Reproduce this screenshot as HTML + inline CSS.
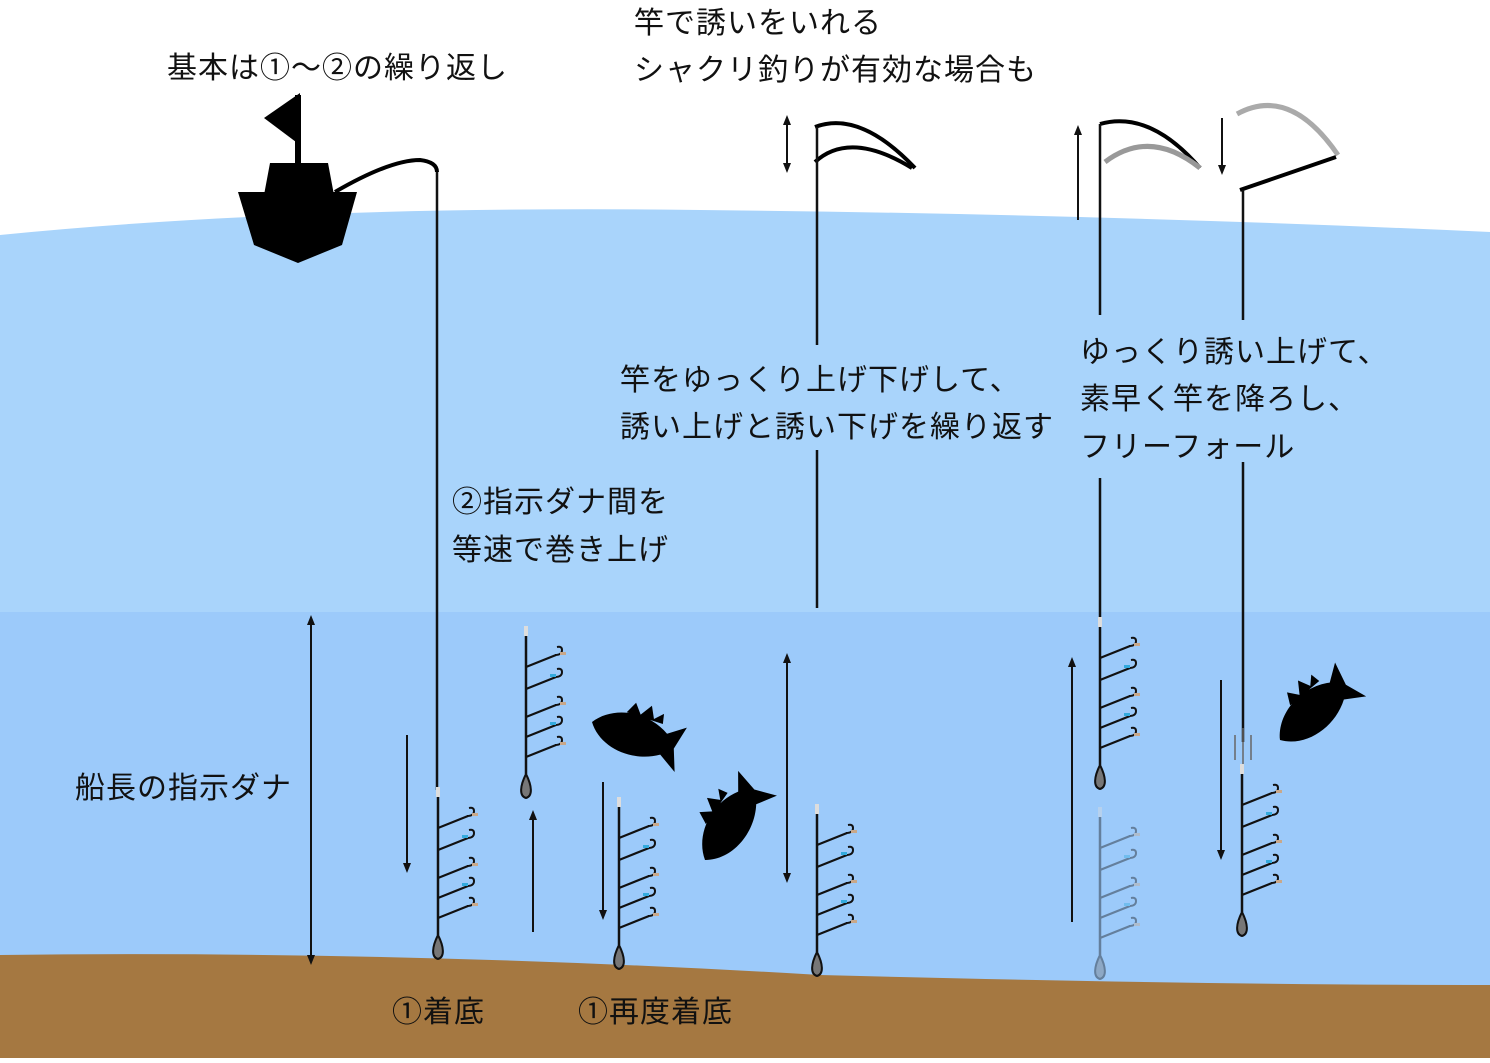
<!DOCTYPE html>
<html><head><meta charset="utf-8"><style>
html,body{margin:0;padding:0;background:#fff}
svg text{font-family:"Liberation Sans","Noto Sans CJK JP",sans-serif;font-size:30px;letter-spacing:1px;fill:#111}
</style></head><body>
<svg width="1490" height="1058" viewBox="0 0 1490 1058" xmlns="http://www.w3.org/2000/svg">
<defs>
<marker id="ah" markerWidth="10" markerHeight="10" refX="5" refY="5" orient="auto-start-reverse" markerUnits="userSpaceOnUse"><path d="M0,1 L10,5 L0,9 z" fill="#111"/></marker>
<g id="rig">
 <line x1="0" y1="0" x2="0" y2="140" stroke="#111" stroke-width="2.5"/>
 <rect x="-2" y="-8" width="4" height="10" fill="#ddd"/>
 <g stroke="#111" stroke-width="2.2" fill="none">
  <path d="M0,33 L30,21"/><path d="M0,55 L30,43"/><path d="M0,83 L30,71"/><path d="M0,103 L30,91"/><path d="M0,123 L30,111"/>
 </g>
 <g stroke="#111" stroke-width="2" fill="none">
  <path d="M29,21 q7,0 7,-5 q0,-4 -5,-3"/><path d="M29,43 q7,0 7,-5 q0,-4 -5,-3"/><path d="M29,71 q7,0 7,-5 q0,-4 -5,-3"/><path d="M29,91 q7,0 7,-5 q0,-4 -5,-3"/><path d="M29,111 q7,0 7,-5 q0,-4 -5,-3"/>
 </g>
 <g fill="#c9a88a"><rect x="34" y="18" width="6" height="3"/><rect x="34" y="68" width="6" height="3"/><rect x="34" y="108" width="6" height="3"/></g>
 <g fill="#3ad"><rect x="24" y="40" width="6" height="3"/><rect x="24" y="88" width="6" height="3"/></g>
 <path d="M0,140 C-6,152 -7,162 0,164 C7,162 6,152 0,140 z" fill="#777" stroke="#111" stroke-width="2"/>
</g>
<path id="fish" d="M0,0 C15,-22 50,-28 75,-12 L92,-24 L86,0 L94,22 L75,10 C50,26 15,22 0,0 z M30,-20 l6,-12 l8,10 l8,-12 l6,12 l8,-8 l2,10 z" fill="#000"/>
</defs>
<path d="M0,235 Q300,205 700,210 Q1100,214 1490,232 L1490,612 L0,612 z" fill="#a9d4fb"/>
<rect x="0" y="612" width="1490" height="390" fill="#9ccafa"/>
<path d="M0,955 Q400,950 820,975 Q1200,985 1490,985 L1490,1058 L0,1058 z" fill="#a57841"/>
<!-- boat -->
<line x1="298" y1="95" x2="298" y2="165" stroke="#000" stroke-width="6"/>
<path d="M264,118 L300,93 L300,145 z" fill="#000"/>
<path d="M270,163 L328,163 L334,195 L264,195 z" fill="#000"/>
<path d="M238,192 L357,192 L342,245 L298,263 L254,245 z" fill="#000"/>
<path d="M335,192 Q390,160 420,160 Q437,162 437,172" stroke="#000" stroke-width="4" fill="none"/>
<line x1="437" y1="172" x2="437" y2="790" stroke="#111" stroke-width="2.5"/>
<!-- rods middle -->
<path d="M815,127 Q860,110 915,168" stroke="#000" stroke-width="4" fill="none"/>
<path d="M815,162 Q850,130 912,168" stroke="#000" stroke-width="4" fill="none"/>
<line x1="817" y1="127" x2="817" y2="345" stroke="#111" stroke-width="2.5"/>
<line x1="817" y1="450" x2="817" y2="608" stroke="#111" stroke-width="2.5"/>
<!-- right rods -->
<path d="M1100,124 Q1150,110 1200,168" stroke="#000" stroke-width="4" fill="none"/>
<path d="M1105,162 Q1150,128 1200,168" stroke="#999" stroke-width="5" fill="none"/>
<line x1="1100" y1="124" x2="1100" y2="315" stroke="#111" stroke-width="2.5"/>
<line x1="1100" y1="478" x2="1100" y2="622" stroke="#111" stroke-width="2.5"/>
<path d="M1237,114 Q1290,85 1338,155" stroke="#aaa" stroke-width="5" fill="none"/>
<line x1="1240" y1="190" x2="1336" y2="157" stroke="#000" stroke-width="4"/>
<line x1="1243" y1="190" x2="1243" y2="320" stroke="#111" stroke-width="2.5"/>
<line x1="1243" y1="462" x2="1243" y2="742" stroke="#111" stroke-width="2.5"/>
<g stroke="#666" stroke-width="1.5"><line x1="1235" y1="735" x2="1235" y2="760"/><line x1="1243" y1="728" x2="1243" y2="765"/><line x1="1251" y1="735" x2="1251" y2="760"/></g>
<!-- arrows -->
<g stroke="#111" stroke-width="2" fill="none">
<line x1="787" y1="120" x2="787" y2="168" marker-start="url(#ah)" marker-end="url(#ah)"/>
<line x1="1078" y1="220" x2="1078" y2="130" marker-end="url(#ah)"/>
<line x1="1222" y1="118" x2="1222" y2="170" marker-end="url(#ah)"/>
<line x1="311" y1="620" x2="311" y2="960" marker-start="url(#ah)" marker-end="url(#ah)"/>
<line x1="407" y1="735" x2="407" y2="868" marker-end="url(#ah)"/>
<line x1="533" y1="932" x2="533" y2="815" marker-end="url(#ah)"/>
<line x1="603" y1="782" x2="603" y2="915" marker-end="url(#ah)"/>
<line x1="787" y1="658" x2="787" y2="878" marker-start="url(#ah)" marker-end="url(#ah)"/>
<line x1="1072" y1="922" x2="1072" y2="662" marker-end="url(#ah)"/>
<line x1="1221" y1="680" x2="1221" y2="855" marker-end="url(#ah)"/>
</g>
<!-- rigs -->
<use href="#rig" x="438" y="795"/>
<use href="#rig" x="526" y="634"/>
<use href="#rig" x="619" y="805"/>
<use href="#rig" x="817" y="812"/>
<use href="#rig" x="1100" y="625"/>
<use href="#rig" x="1100" y="815" opacity="0.4"/>
<use href="#rig" x="1242" y="772"/>
<!-- fish -->
<use href="#fish" transform="translate(592,722) rotate(18)"/>
<use href="#fish" transform="translate(705,860) rotate(-55)"/>
<use href="#fish" transform="translate(1280,740) rotate(-40)"/>
<!-- text -->
<text x="167" y="78">基本は①～②の繰り返し</text>
<text x="634" y="33">竿で誘いをいれる</text>
<text x="634" y="80">シャクリ釣りが有効な場合も</text>
<text x="620" y="390">竿をゆっくり上げ下げして、</text>
<text x="620" y="437">誘い上げと誘い下げを繰り返す</text>
<text x="1080" y="362">ゆっくり誘い上げて、</text>
<text x="1080" y="409">素早く竿を降ろし、</text>
<text x="1080" y="457">フリーフォール</text>
<text x="452" y="512">②指示ダナ間を</text>
<text x="452" y="560">等速で巻き上げ</text>
<text x="75" y="798">船長の指示ダナ</text>
<text x="392" y="1022">①着底</text>
<text x="578" y="1022">①再度着底</text>
</svg>
</body></html>
